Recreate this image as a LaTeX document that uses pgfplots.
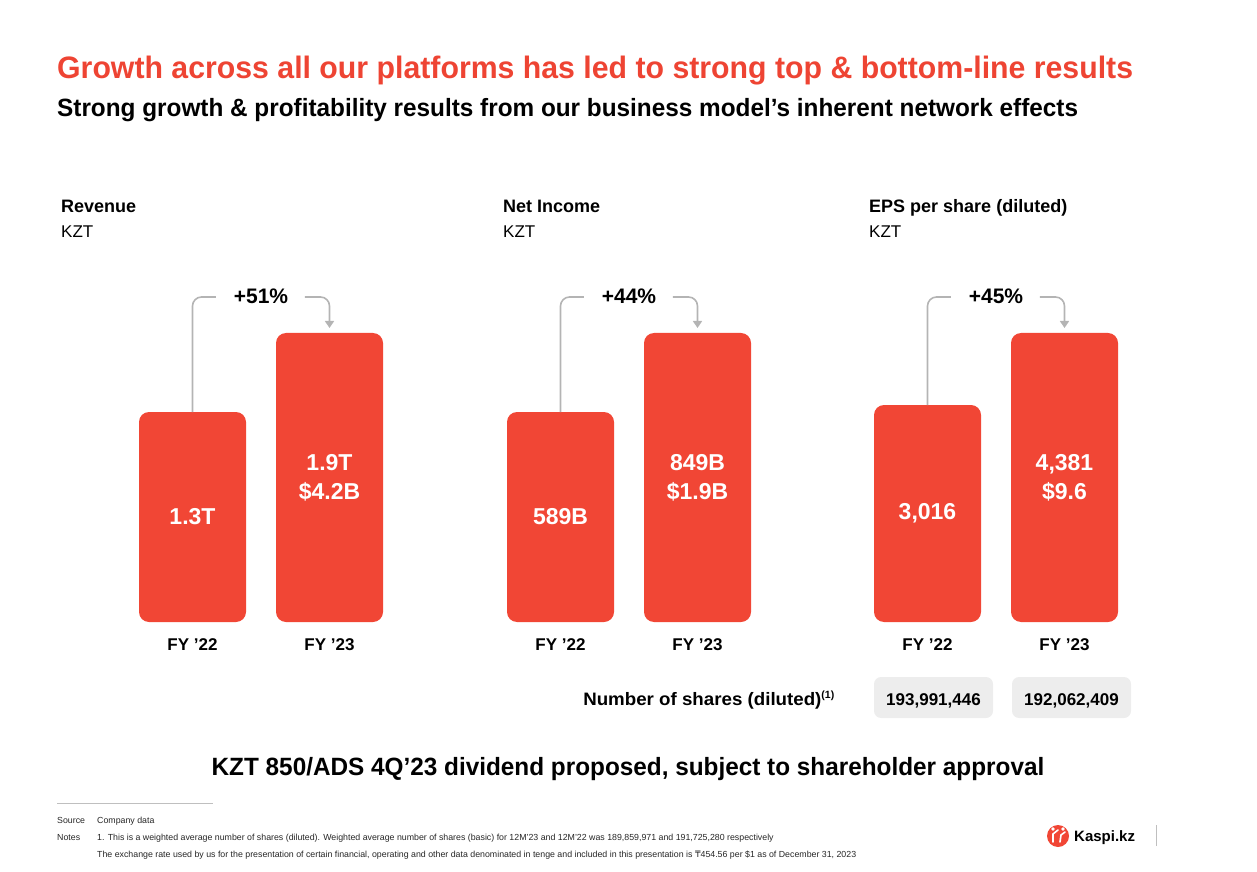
\documentclass[border=0pt]{standalone}
\usepackage{pgfplots}
\pgfplotsset{compat=1.18}
\usepackage{fontspec}
\setmainfont{Liberation Sans}
\newfontfamily\dejavu{DejaVu Sans}
\usetikzlibrary{arrows.meta}
\definecolor{kred}{HTML}{F14635}
\definecolor{tred}{HTML}{EE4433}
\definecolor{agray}{HTML}{B4B4B4}
\definecolor{bgray}{HTML}{EDEDED}
\pgfplotsset{
  kbar/.style={
    scale only axis, width=274pt, height=289pt,
    xmin=-0.5, xmax=1.5, ymin=0, ymax=289,
    ybar, bar width=107pt, bar shift=0pt,
    axis line style={draw=none}, major tick length=0pt,
    ytick=\empty, xtick={0,1}, xticklabels={FY ’22, FY ’23},
    xticklabel style={font=\fontsize{17}{17}\selectfont\bfseries, anchor=base, yshift=-28pt},
    clip=false, anchor=south west,
  }
}
\newcommand{\growth}[2]{%
  \draw[agray, line width=1.6pt, rounded corners=9pt] (axis cs:0,#1) -- (axis cs:0,325) -- (axis cs:0.17,325);
  \draw[agray, line width=1.6pt, rounded corners=9pt, -{Triangle[width=9pt,length=7pt]}] (axis cs:0.82,325) -- (axis cs:1,325) -- (axis cs:1,294);
  \node[font=\fontsize{21}{21}\selectfont\bfseries, anchor=base] at (axis cs:0.5,318) {#2};
}
\tikzset{vlab/.style={white, font=\fontsize{23}{29}\selectfont\bfseries, align=center}}
\begin{document}
\begin{tikzpicture}
\useasboundingbox (0pt,0pt) rectangle (1257pt,871pt);
% titles
\node[anchor=base west, inner sep=0pt, text=tred, font=\fontsize{31}{31}\selectfont\bfseries] at (57pt,792pt) {\scalebox{0.976}[1]{Growth across all our platforms has led to strong top \& bottom-line results}};
\node[anchor=base west, inner sep=0pt, font=\fontsize{25}{25}\selectfont\bfseries] at (57pt,754pt) {\scalebox{0.973}[1]{Strong growth \& profitability results from our business model’s inherent network effects}};
% panel headings
\foreach \xx/\tt in {61/Revenue, 503/Net Income, 869/EPS per share (diluted)} {
  \node[anchor=base west, inner sep=0pt, font=\fontsize{18}{18}\selectfont\bfseries] at (\xx pt,658pt) {\tt};
  \node[anchor=base west, inner sep=0pt, font=\fontsize{17}{17}\selectfont] at (\xx pt,633pt) {KZT};
}
% Revenue
\begin{axis}[kbar, at={(124pt,249pt)}]
\addplot[fill=kred, draw=none, rounded corners=10pt] coordinates {(0,210) (1,289)};
\growth{210}{+51\%}
\node[vlab] at (axis cs:0,105) {1.3T};
\node[vlab] at (axis cs:1,144.5) {1.9T\\\$4.2B};
\end{axis}
% Net income
\begin{axis}[kbar, at={(492pt,249pt)}]
\addplot[fill=kred, draw=none, rounded corners=10pt] coordinates {(0,210) (1,289)};
\growth{210}{+44\%}
\node[vlab] at (axis cs:0,105) {589B};
\node[vlab] at (axis cs:1,144.5) {849B\\\$1.9B};
\end{axis}
% EPS
\begin{axis}[kbar, at={(859pt,249pt)}]
\addplot[fill=kred, draw=none, rounded corners=10pt] coordinates {(0,217) (1,289)};
\growth{217}{+45\%}
\node[vlab] at (axis cs:0,108.5) {3,016};
\node[vlab] at (axis cs:1,144.5) {4,381\\\$9.6};
\end{axis}
% shares row
\node[anchor=base east, inner sep=0pt, font=\fontsize{18}{18}\selectfont\bfseries] at (835pt,166pt) {\scalebox{1.04}[1]{Number of shares (diluted)}\textsuperscript{\fontsize{10.5}{10.5}\selectfont(1)}};
\fill[bgray, rounded corners=7pt] (874pt,153pt) rectangle (993pt,194pt);
\fill[bgray, rounded corners=7pt] (1012pt,153pt) rectangle (1131pt,194pt);
\node[anchor=base, inner sep=0pt, font=\fontsize{17}{17}\selectfont\bfseries] at (933.5pt,166pt) {193,991,446};
\node[anchor=base, inner sep=0pt, font=\fontsize{17}{17}\selectfont\bfseries] at (1071.5pt,166pt) {192,062,409};
% dividend
\node[anchor=base, inner sep=0pt, font=\fontsize{25}{25}\selectfont\bfseries] at (628pt,96pt) {\scalebox{0.973}[1]{KZT 850/ADS 4Q’23 dividend proposed, subject to shareholder approval}};
% footnotes
\draw[black!25, line width=0.8pt] (57pt,68pt) -- (213pt,68pt);
\begin{scope}[every node/.style={anchor=base west, inner sep=0pt, font=\fontsize{8.8}{8.8}\selectfont, text=black!85}]
\node at (57pt,48pt) {Source};
\node at (97pt,48pt) {Company data};
\node at (57pt,31pt) {Notes};
\node at (97pt,31pt) {1. This is a weighted average number of shares (diluted). Weighted average number of shares (basic) for 12M’23 and 12M’22 was 189,859,971 and 191,725,280 respectively};
\node at (97pt,14pt) {The exchange rate used by us for the presentation of certain financial, operating and other data denominated in tenge and included in this presentation is {\dejavu ₸}454.56 per \$1 as of December 31, 2023};
\end{scope}
% logo
\fill[kred] (1058pt,35pt) circle (11pt);
\draw[white, line width=1.6pt, line cap=round] (1053pt,29pt) -- (1053pt,37pt) -- (1058pt,41pt);
\draw[white, line width=1.6pt, line cap=round] (1060pt,29pt) -- (1061pt,36pt) -- (1065pt,39pt);
\fill[white] (1053pt,42pt) circle (1.8pt);
\fill[white] (1063pt,42pt) circle (1.8pt);
\node[anchor=base west, inner sep=0pt, font=\fontsize{15}{15}\selectfont\bfseries] at (1074pt,30pt) {Kaspi.kz};
\draw[black!25, line width=0.8pt] (1156pt,25pt) -- (1156pt,46pt);
\end{tikzpicture}
\end{document}
